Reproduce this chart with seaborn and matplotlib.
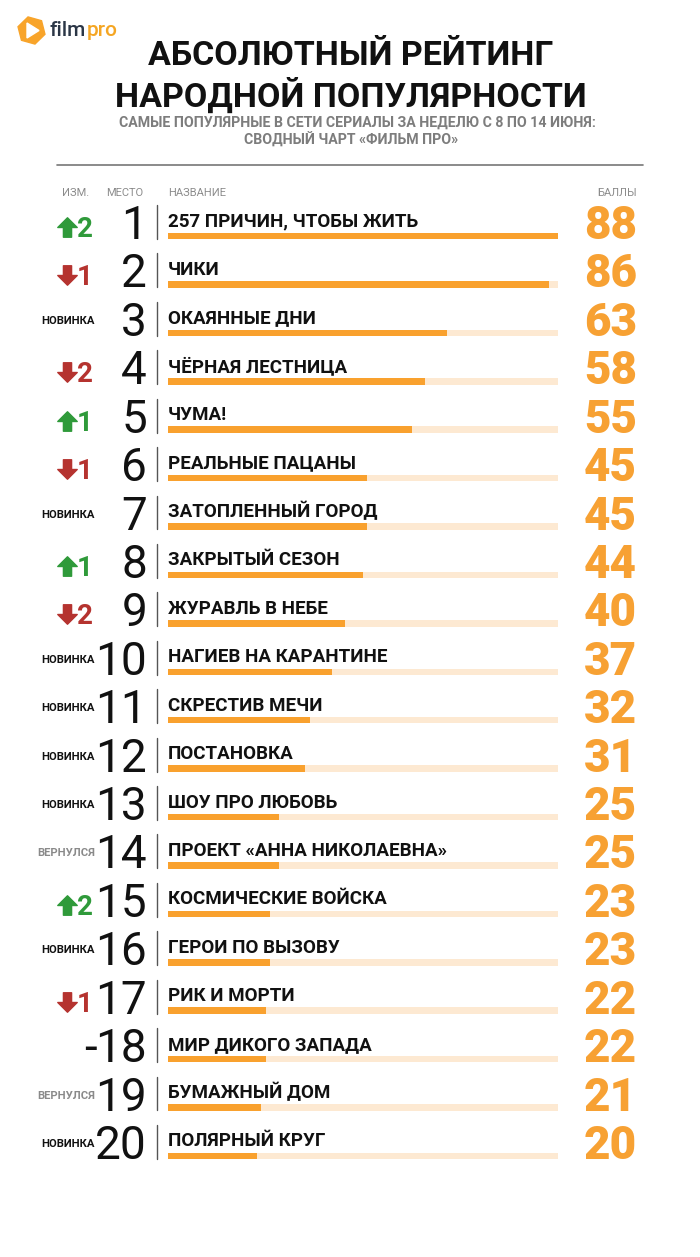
import matplotlib
matplotlib.use('Agg')
import numpy as np
import pandas as pd
import seaborn as sns
from matplotlib import pyplot as plt
from matplotlib import transforms as mtransforms
from matplotlib.path import Path
from matplotlib.patches import RegularPolygon, Polygon

# chart data
ranks = list(range(1, 21))
titles = ['257 ПРИЧИН, ЧТОБЫ ЖИТЬ', 'ЧИКИ', 'ОКАЯННЫЕ ДНИ', 'ЧЁРНАЯ ЛЕСТНИЦА', 'ЧУМА!',
          'РЕАЛЬНЫЕ ПАЦАНЫ', 'ЗАТОПЛЕННЫЙ ГОРОД', 'ЗАКРЫТЫЙ СЕЗОН', 'ЖУРАВЛЬ В НЕБЕ',
          'НАГИЕВ НА КАРАНТИНЕ', 'СКРЕСТИВ МЕЧИ', 'ПОСТАНОВКА', 'ШОУ ПРО ЛЮБОВЬ',
          'ПРОЕКТ «АННА НИКОЛАЕВНА»', 'КОСМИЧЕСКИЕ ВОЙСКА', 'ГЕРОИ ПО ВЫЗОВУ', 'РИК И МОРТИ',
          'МИР ДИКОГО ЗАПАДА', 'БУМАЖНЫЙ ДОМ', 'ПОЛЯРНЫЙ КРУГ']
scores = [88, 86, 63, 58, 55, 45, 45, 44, 40, 37, 32, 31, 25, 25, 23, 23, 22, 22, 21, 20]
changes = ['+2', '-1', 'НОВИНКА', '-2', '+1', '-1', 'НОВИНКА', '+1', '-2', 'НОВИНКА',
           'НОВИНКА', 'НОВИНКА', 'НОВИНКА', 'ВЕРНУЛСЯ', '+2', 'НОВИНКА', '-1', '-',
           'ВЕРНУЛСЯ', 'НОВИНКА']

title_lines = ['АБСОЛЮТНЫЙ РЕЙТИНГ', 'НАРОДНОЙ ПОПУЛЯРНОСТИ']
subtitle_lines = ['САМЫЕ ПОПУЛЯРНЫЕ В СЕТИ СЕРИАЛЫ ЗА НЕДЕЛЮ С 8 ПО 14 ИЮНЯ:',
                  'СВОДНЫЙ ЧАРТ «ФИЛЬМ ПРО»']
headers = ['ИЗМ.', 'МЕСТО', 'НАЗВАНИЕ', 'БАЛЛЫ']

ORANGE = '#f9a12e'
TRACK = '#fde9d2'
GREEN = '#2f9a3a'
RED = '#b5332f'

sns.set_theme(style='white')
plt.rcParams['font.family'] = ['Roboto', 'DejaVu Sans']

W, H = 700, 1257
fig = plt.figure(figsize=(W / 100, H / 100), dpi=100)
fig.patch.set_facecolor('white')

# bar area: rows 0..19, bar centres at y=236 ... 1156 px
top_px, bot_px = 211.8, 1180.2
ax = fig.add_axes([168 / W, 1 - bot_px / H, 390 / W, (bot_px - top_px) / H])

df = pd.DataFrame({'title': titles, 'score': scores})
df['track'] = max(scores)
sns.barplot(data=df, x='track', y='title', color=TRACK, width=0.135, orient='h',
            saturation=1, linewidth=0, ax=ax)
sns.barplot(data=df, x='score', y='title', color=ORANGE, width=0.135, orient='h',
            saturation=1, linewidth=0, ax=ax)
ax.set_xlim(0, max(scores))
ax.set_ylim(len(titles) - 0.5, -0.5)
ax.axis('off')

base = mtransforms.blended_transform_factory(fig.transFigure, ax.transData)


def row_tr(dy):
    # dy: pixel offset downward from the bar centre
    return mtransforms.offset_copy(base, fig=fig, x=0, y=-dy, units='dots')


def fx(px):
    return px / W


def fy(py):
    return 1 - py / H


up = Path([(-1, 0), (0, 1), (1, 0), (0.42, 0), (0.42, -1), (-0.42, -1), (-0.42, 0), (-1, 0)],
          [Path.MOVETO] + [Path.LINETO] * 6 + [Path.CLOSEPOLY])
down = Path([(x, -y) for x, y in up.vertices], up.codes)

for i, (rk, name, sc, ch) in enumerate(zip(ranks, titles, scores, changes)):
    ax.text(fx(168), i, name, transform=row_tr(-9.5), ha='left', va='baseline',
            fontsize=13.5, fontweight='bold', color='#111111', clip_on=False)
    ax.text(fx(147), i, str(rk), transform=row_tr(3), ha='right', va='baseline',
            fontsize=33, fontweight='normal', color='#111111', clip_on=False)
    ax.text(fx(637), i, str(sc), transform=row_tr(3), ha='right', va='baseline',
            fontsize=33, fontweight='black', color='#f7a133', clip_on=False)
    ax.plot([fx(157), fx(157)], [i - 0.64, i + 0.06], transform=base, color='#555555',
            lw=1, clip_on=False)
    if ch[0] in '+-' and len(ch) > 1:
        col = GREEN if ch[0] == '+' else RED
        ax.plot([fx(67)], [i], transform=row_tr(-9), marker=up if ch[0] == '+' else down,
                ms=14, color=col, linestyle='none', clip_on=False)
        ax.text(fx(77), i, ch[1:], transform=row_tr(1), ha='left', va='baseline',
                fontsize=20, fontweight='bold', color=col, clip_on=False)
    elif ch == '-':
        ax.text(fx(97), i, '-', transform=row_tr(3), ha='right', va='baseline',
                fontsize=33, fontweight='normal', color='#111111', clip_on=False)
    else:
        col = '#111111' if ch == 'НОВИНКА' else '#8a8a8a'
        ax.text(fx(95), i, ch, transform=row_tr(-9), ha='right', va='baseline',
                fontsize=8.1, fontweight='bold', color=col, clip_on=False)

# titles
fig.text(fx(351), fy(65), title_lines[0], ha='center', va='baseline', fontsize=24.5,
         fontweight='bold', color='#111111')
fig.text(fx(351), fy(107), title_lines[1], ha='center', va='baseline', fontsize=24.5,
         fontweight='bold', color='#111111')
fig.text(fx(357), fy(127), subtitle_lines[0], ha='center', va='baseline', fontsize=10.2,
         fontweight='bold', color='#7d7d7d')
fig.text(fx(351), fy(145), subtitle_lines[1], ha='center', va='baseline', fontsize=10.2,
         fontweight='bold', color='#7d7d7d')

# rule and column headers
fig.add_artist(plt.Line2D([fx(57), fx(643)], [fy(165), fy(165)], color='#777777', lw=1.2))
hcol = '#8c8c8c'
fig.text(fx(62), fy(196), headers[0], ha='left', va='baseline', fontsize=8, color=hcol)
fig.text(fx(106), fy(196), headers[1], ha='left', va='baseline', fontsize=8, color=hcol)
fig.text(fx(168), fy(196), headers[2], ha='left', va='baseline', fontsize=8, color=hcol)
fig.text(fx(637), fy(196), headers[3], ha='right', va='baseline', fontsize=8, color=hcol)

# logo
ident = mtransforms.IdentityTransform()
fig.add_artist(RegularPolygon((31.5, H - 30.5), 6, radius=14, orientation=0.25,
                              transform=ident, color='#f8a42a'))
fig.add_artist(Polygon([(27, H - 23), (27, H - 38), (39, H - 30.5)], closed=True,
                       transform=ident, color='white'))
t_film = fig.text(fx(50), fy(36), 'film', ha='left', va='baseline', fontsize=15,
                  fontweight='medium', color='#2b3646')
fig.canvas.draw()
bb = t_film.get_window_extent()
fig.text(bb.x1 / W, fy(36), 'pro', ha='left', va='baseline', fontsize=15,
         fontweight='medium', color='#f5a623')

fig.savefig('out.png', dpi=100)
